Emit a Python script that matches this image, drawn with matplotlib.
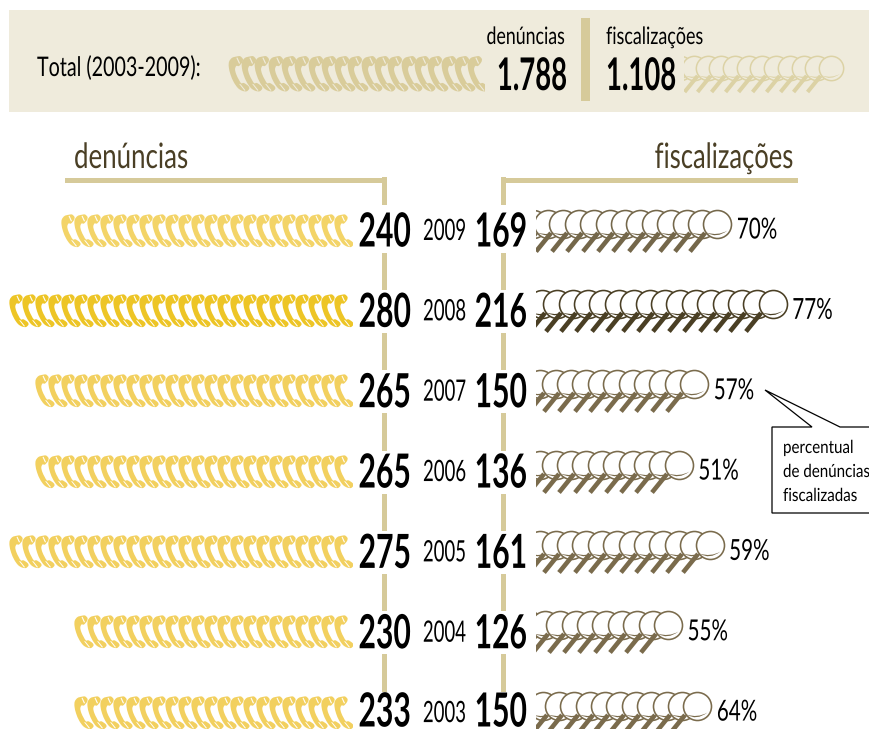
import matplotlib
matplotlib.use("Agg")
import matplotlib.pyplot as plt
import matplotlib.patheffects as pe
from matplotlib.path import Path
from matplotlib.patches import Rectangle, Polygon
from matplotlib.transforms import Affine2D

# ---------- data ----------
years = ["2009", "2008", "2007", "2006", "2005", "2004", "2003"]
denuncias = [240, 280, 265, 265, 275, 230, 233]
fiscalizacoes = [169, 216, 150, 136, 161, 126, 150]
percentual = ["70%", "77%", "57%", "51%", "59%", "55%", "64%"]
phone_icons = [22, 26, 24, 24, 26, 21, 21]
lens_icons = [11.9, 15.5, 10.4, 9.4, 11.4, 8.7, 10.6]
phone_colors = ["#f3d468", "#edc526", "#f2d05f", "#f2d05f", "#f2d05f", "#f2d05f", "#f2d05f"]
lens_colors = ["#74674a", "#4a3f24", "#7a6b4c", "#7a6b4c", "#7a6b4c", "#7a6b4c", "#7a6b4c"]
total_label = "Total (2003-2009):"
total_den = "1.788"
total_fis = "1.108"
total_phone_icons = 19
total_lens_icons = 10.47

W, H = 870, 729
PX = 0.72
GOLD = "#d6ca9a"
BROWN = "#4a3f25"
PANEL = "#efebdc"
FONT = "Lato"


class Tall(pe.AbstractPathEffect):
    """Draws the glyphs taller than their layout size, for a condensed look."""

    def __init__(self, sy):
        super().__init__()
        self.sy = sy

    def draw_path(self, renderer, gc, tpath, affine, rgbFace=None):
        renderer.draw_path(gc, tpath, Affine2D().scale(1, self.sy) + affine, rgbFace)


fig = plt.figure(figsize=(W / 100, H / 100), dpi=100, facecolor="white")
canvas = fig.add_axes([0, 0, 1, 1])
canvas.set_xlim(0, W)
canvas.set_ylim(H, 0)
canvas.axis("off")


def label(x, base, s, px, sx=0.7, ha="left", color="black", weight="normal", z=50):
    t = canvas.text(x, base, s, fontsize=px * sx * PX, family=FONT, ha=ha, va="baseline",
                    color=color, weight=weight, zorder=z)
    t.set_path_effects([Tall(1 / sx)])
    return t


def strip_axes(x0, x1, y0, y1):
    ax = fig.add_axes([x0 / W, 1 - y1 / H, (x1 - x0) / W, (y1 - y0) / H], zorder=5)
    ax.axis("off")
    ax.patch.set_alpha(0)
    return ax


# ---------- icon shapes (pixels, y up, centred) ----------
C3, C4, L, M, Z = Path.CURVE3, Path.CURVE4, Path.LINETO, Path.MOVETO, Path.CLOSEPOLY


def smooth_closed(pts):
    n = len(pts)
    verts, codes = [pts[0]], [M]
    for i in range(n):
        p0, p1, p2, p3 = pts[i - 1], pts[i], pts[(i + 1) % n], pts[(i + 2) % n]
        c1 = (p1[0] + (p2[0] - p0[0]) / 6, p1[1] + (p2[1] - p0[1]) / 6)
        c2 = (p2[0] - (p3[0] - p1[0]) / 6, p2[1] - (p3[1] - p1[1]) / 6)
        verts += [c1, c2, p2]
        codes += [C4, C4, C4]
    return Path(verts, codes)


def phone_path():
    # outline written with y down as seen in the picture, box 19 x 32
    pts = [(7, 0.3), (10.5, 0), (13, 2.5), (12.5, 5.5), (9.5, 9), (7, 9), (5.8, 12), (6.8, 16.5),
           (9.2, 21.5), (11.5, 25), (14, 24.8), (18, 27.5), (19, 30), (16.5, 32.5), (12.5, 32),
           (8.5, 29.5), (4.6, 24), (1.6, 17), (0, 10), (0.3, 5), (3, 1.5)]
    return smooth_closed([(x - 9, 16 - y) for x, y in pts])


def slit_path():
    # small gaps that split ear and mouth pieces from the handle
    pts = [(9.5, 25.5), (11, 26), (15.5, 31.6), (14.5, 32)]
    a = [(x - 9, 16 - y) for x, y in pts]
    pts2 = [(7, 1.5), (8, 1.2), (10.5, 6.5), (9.5, 7)]
    b = [(x - 9, 16 - y) for x, y in pts2]
    return Path(a + [a[0]] + b + [b[0]], [M, L, L, L, Z, M, L, L, L, Z])


def handle_path():
    (x0, y0), (x1, y1) = (-12.5, -8.5), (-27.5, -27)
    ln = ((x1 - x0) ** 2 + (y1 - y0) ** 2) ** 0.5
    nx, ny = -(y1 - y0) / ln * 2.3, (x1 - x0) / ln * 2.3
    return Path([(x0 + nx, y0 + ny), (x1 + nx, y1 + ny), (x1 - nx, y1 - ny), (x0 - nx, y0 - ny),
                 (x0 + nx, y0 + ny)], [M, L, L, L, Z])


def crescent_path():
    return Path([(-11, -8), (-1, -14.5), (10, -6), (0, -11.8), (-11, -8), (-11, -8)],
                [M, C3, C3, C3, C3, Z])


RING = Path.circle((0, 0), 14)
PHONE, SLIT, HANDLE, CRESCENT = phone_path(), slit_path(), handle_path(), crescent_path()


def stamp(ax, x, y, path, scale, face, edge="none", lw=0.0, z=1):
    size = 2 * abs(path.vertices).max() * scale * PX
    ax.plot([x], [y], linestyle="none", marker=path, markersize=size, markerfacecolor=face,
            markeredgecolor=edge, markeredgewidth=lw * PX, zorder=z)


def draw_phones(ax, y, n, color, bg, scale=1.0):
    k = 0
    while k < n:
        stamp(ax, k + 0.5, y, PHONE, scale, color, z=10 + k)
        stamp(ax, k + 0.5, y, SLIT, scale, bg, z=10 + k)
        k += 1


def draw_lenses(ax, y, last, color, fill, scale=1.0, lw=1.6):
    # right-most icon sits at `last`; icons repeat leftwards until the axes clip them
    left = min(ax.get_xlim())
    pos = []
    x = last
    while x > left - 3:
        pos.append(x)
        x -= 1
    for j, x in enumerate(reversed(pos)):
        stamp(ax, x, y, HANDLE, scale, color, z=10 + j)
        stamp(ax, x, y, RING, scale, fill, color, lw, z=10 + j)
        stamp(ax, x, y, CRESCENT, scale, color, z=10 + j)


# ---------- top panel ----------
canvas.add_patch(Rectangle((9, 10), W - 9, 102, fc=PANEL, ec="none", zorder=0))
canvas.add_patch(Rectangle((581, 18), 9, 83, fc=GOLD, ec="none", zorder=1))
label(37, 76, total_label, 27, 0.73)
label(565, 44, "denúncias", 24, 0.74, ha="right")
label(606, 44, "fiscalizações", 24, 0.746)
label(567, 90, total_den, 45, 0.61, ha="right", weight="bold")
label(606, 90, total_fis, 45, 0.61, weight="bold")

# phone c -> px = 228 + 9.7 + 13.3 * (c - 0.5)
ax = strip_axes(228, 484, 10, 112)
ax.set_xlim(0.5 - 9.7 / 13.3, 0.5 + (484 - 228 - 9.7) / 13.3)
ax.set_ylim(0, 1)
draw_phones(ax, 1 - (73 - 10) / 102, total_phone_icons, "#d9cc9a", PANEL, 1.08)

# lens c -> px = 684 + 10.4 + 13.7 * (c - 0.5), c counts icons
ax = strip_axes(684, W, 10, 112)
ax.set_xlim(0.5 - 10.4 / 13.7, 0.5 + (W - 684 - 10.4) / 13.7)
ax.set_ylim(0, 1)
draw_lenses(ax, 1 - (67.5 - 10) / 102, total_lens_icons, "#dcd2a5", PANEL, 0.87, 1.5)

# ---------- headers and brackets ----------
label(74, 168, "denúncias", 35, 0.74, color=BROWN)
label(794, 168, "fiscalizações", 35, 0.73, ha="right", color=BROWN)
row_px = [229.5 + 80.35 * i for i in range(len(years))]

for x_bar in (385, 503.5):
    segs = [(177, row_px[0] - 25)]
    for a, b in zip(row_px[:-1], row_px[1:]):
        segs.append((a + 23, b - 20))
    for a, b in segs:
        canvas.add_patch(Rectangle((x_bar - 2.5, a), 5, b - a, fc=GOLD, ec="none", zorder=2))
canvas.add_patch(Rectangle((65, 177.5), 322.5, 5, fc=GOLD, ec="none", zorder=2))
canvas.add_patch(Rectangle((501, 177.5), 297, 5, fc=GOLD, ec="none", zorder=2))

# ---------- rows ----------
# phone c -> px = 343 - 13 * (c - 0.5)
ax_ph = strip_axes(0, 352.5, 0, H)
ax_ph.set_xlim(0.5 + 343 / 13, 0.5 - 9.5 / 13)
ax_ph.set_ylim((H - row_px[0]) / 80.35, (0 - row_px[0]) / 80.35)

# lens count c -> px = 536 + (c - 1) * SP + 13.5
SP = 15.4
ax_ln = strip_axes(536, W, 0, H)
ax_ln.set_xlim(1 - 13.5 / SP, 1 + (W - 536 - 13.5) / SP)
ax_ln.set_ylim((H - row_px[0]) / 80.35, (0 - row_px[0]) / 80.35)
ring_dy = -6 / 80.35

for i, yr in enumerate(years):
    yp = row_px[i]
    draw_phones(ax_ph, i, phone_icons[i], phone_colors[i], "white")
    draw_lenses(ax_ln, i + ring_dy, lens_icons[i], lens_colors[i], "white")
    base = min(yp + 17, 726.5)
    label(411, base, str(denuncias[i]), 47, 0.64, ha="right", weight="bold")
    label(466, yp + 10.5, yr, 29.5, 0.63, ha="right")
    label(527, base, str(fiscalizacoes[i]), 47, 0.64, ha="right", weight="bold")
    ring_right = 536 + (lens_icons[i] - 1) * SP + 27
    label(ring_right + 6, yp + 9, percentual[i], 29, 0.71)

# ---------- callout ----------
canvas.add_patch(Polygon([(772, 427), (812, 427), (765, 390), (840, 427), (871, 427),
                          (871, 513), (772, 513)], closed=True, fc="white", ec="black",
                         lw=0.9, zorder=30, joinstyle="miter"))
label(783, 453, "percentual", 18, 0.84)
label(783, 477, "de denúncias", 18, 0.84)
label(783, 501, "fiscalizadas", 18, 0.84)

fig.savefig("out.png", dpi=100, facecolor="white")
